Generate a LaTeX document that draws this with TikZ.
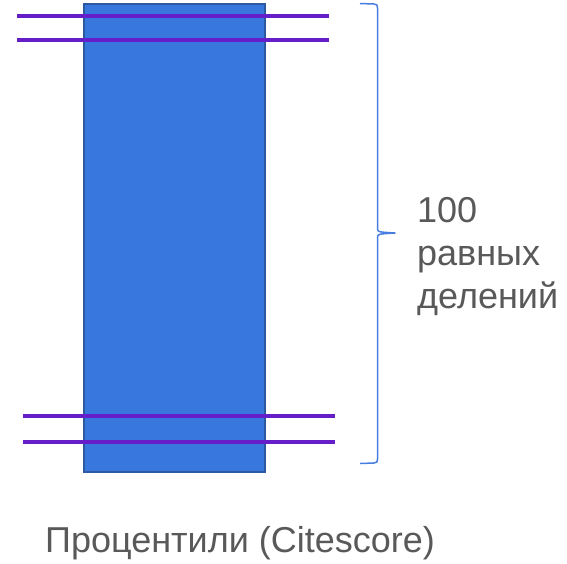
\documentclass[tikz,border=0pt]{standalone}
\usepackage{fontspec}
\setmainfont{Liberation Sans}
\definecolor{barfill}{RGB}{56,120,222}
\definecolor{bardraw}{RGB}{44,90,160}
\definecolor{cutline}{RGB}{102,30,200}
\definecolor{bracecol}{RGB}{70,125,225}
\definecolor{txtgray}{RGB}{89,89,89}
\begin{document}
\begin{tikzpicture}[x=1pt,y=-1pt,
  bar/.style={fill=barfill,draw=bardraw,line width=2pt},
  cut/.style={draw=cutline,line width=4pt},
  bracepath/.style={draw=bracecol,line width=1.5pt,line join=round},
  lbl/.style={text=txtgray,inner sep=0pt,font=\fontsize{36}{43}\selectfont}]
\useasboundingbox (0,0) rectangle (567,563);
\node[bar,minimum width=181pt,minimum height=468pt,inner sep=0pt,anchor=north west] (rect) at (83,3) {};
\coordinate (t1a) at (17,16); \coordinate (t1b) at (329,16);
\coordinate (t2a) at (17,40); \coordinate (t2b) at (329,40);
\coordinate (b1a) at (23,416); \coordinate (b1b) at (335,416);
\coordinate (b2a) at (23,442); \coordinate (b2b) at (335,442);
\draw[cut] (t1a) -- (t1b);
\draw[cut] (t2a) -- (t2b);
\draw[cut] (b1a) -- (b1b);
\draw[cut] (b2a) -- (b2b);
\coordinate (btop) at (360,3.5);
\coordinate (btip) at (395,233);
\coordinate (bbot) at (360,463.5);
\draw[bracepath] (btop) -- (374,4) .. controls (377,4.5) .. (377.5,8) -- (377.5,229)
  .. controls (378,232) .. (btip) .. controls (378,234) .. (377.5,237) -- (377.5,459)
  .. controls (377,462.5) .. (374,463) -- (bbot);
\node[lbl,align=left,anchor=base west] (lab) at (417,308) {100\\равных\\делений};
\node[lbl,anchor=base west] (cap) at (45,552) {Процентили (Citescore)};
\end{tikzpicture}
\end{document}
